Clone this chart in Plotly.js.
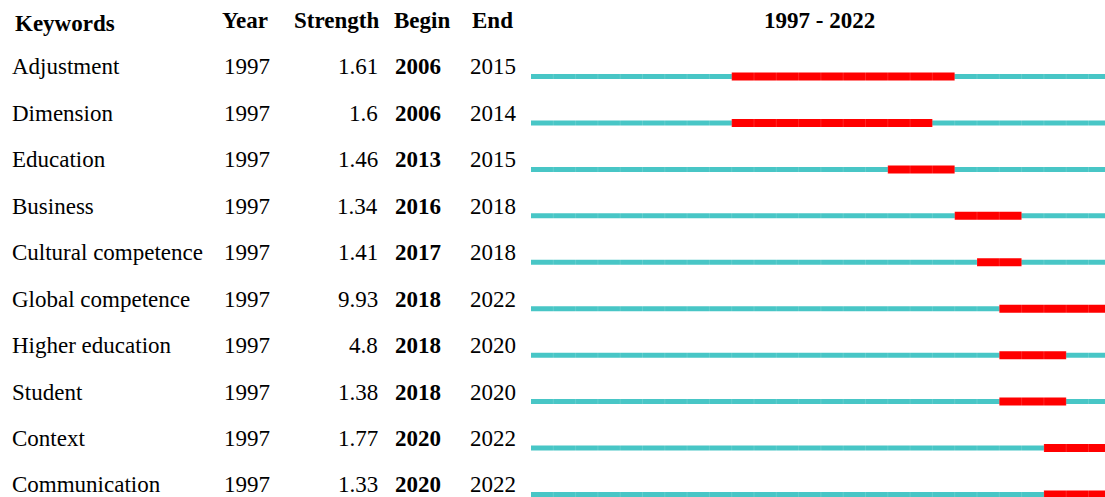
<!DOCTYPE html>
<html>
<head>
<meta charset="utf-8">
<script src="https://cdn.plot.ly/plotly-3.0.1.min.js"></script>
<style>html,body{margin:0;padding:0;background:#fff;}#chart{width:1105px;height:497px;}</style>
</head>
<body>
<div id="chart"></div>
<script>
const keywords = ["Adjustment","Dimension","Education","Business","Cultural competence","Global competence","Higher education","Student","Context","Communication"];
const years = [1997,1997,1997,1997,1997,1997,1997,1997,1997,1997];
const strengths = ["1.61","1.6","1.46","1.34","1.41","9.93","4.8","1.38","1.77","1.33"];
const begins = [2006,2006,2013,2016,2017,2018,2018,2018,2020,2020];
const ends = [2015,2014,2015,2018,2018,2022,2020,2020,2022,2022];
const headers = ["Keywords","Year","Strength","Begin","End"];
const spanStart = 1997;
const spanEnd = 2022;

const W = 1105, H = 497;
const FONT = "Liberation Serif, 'Times New Roman', serif";
const FS = 23;

// cyan full-span lines and red burst lines
const cx = [], cy = [], rx = [], ry = [], sx = [], sy = [];
keywords.forEach((k, i) => {
  cx.push(spanStart, spanEnd + 1, null); cy.push(i, i, null);
  rx.push(begins[i], ends[i] + 1, null); ry.push(i, i, null);
  for (let yr = spanStart + 1; yr <= spanEnd; yr++) { sx.push(yr); sy.push(i); }
});

const traces = [
  {x: cx, y: cy, mode: 'lines', line: {color: '#48C6C6', width: 5}, hoverinfo: 'skip', type: 'scatter'},
  {x: rx, y: ry, mode: 'lines', line: {color: '#FF0000', width: 8}, hoverinfo: 'skip', type: 'scatter'},
  {x: sx, y: sy, mode: 'markers', marker: {symbol: 'line-ns', size: 8, color: 'rgba(255,255,255,0.15)', line: {color: 'rgba(255,255,255,0.15)', width: 1}}, hoverinfo: 'skip', type: 'scatter'}
];

const ann = [];
const txtOff = -0.205;
const colX = {kw: 10, year: 222, strR: 380, begin: 393, end: 468};
keywords.forEach((k, i) => {
  const y = i + txtOff;
  ann.push({text: k, xref: 'paper', x: colX.kw / W, yref: 'y', y: y, xanchor: 'left', yanchor: 'middle', showarrow: false, font: {family: FONT, size: FS, color: '#000'}});
  ann.push({text: String(years[i]), xref: 'paper', x: colX.year / W, yref: 'y', y: y, xanchor: 'left', yanchor: 'middle', showarrow: false, font: {family: FONT, size: FS, color: '#000'}});
  ann.push({text: strengths[i], xref: 'paper', x: colX.strR / W, yref: 'y', y: y, xanchor: 'right', yanchor: 'middle', showarrow: false, font: {family: FONT, size: FS, color: '#000'}});
  ann.push({text: '<b>' + begins[i] + '</b>', xref: 'paper', x: colX.begin / W, yref: 'y', y: y, xanchor: 'left', yanchor: 'middle', showarrow: false, font: {family: FONT, size: FS, color: '#000'}});
  ann.push({text: String(ends[i]), xref: 'paper', x: colX.end / W, yref: 'y', y: y, xanchor: 'left', yanchor: 'middle', showarrow: false, font: {family: FONT, size: FS, color: '#000'}});
});
const hdrY = 1 - 21 / H;
const hdrPos = [[13, 'left', 1 - 24 / H], [220, 'left', hdrY], [381, 'right', hdrY], [392, 'left', hdrY], [470, 'left', hdrY]];
headers.forEach((h, j) => {
  ann.push({text: '<b>' + h + '</b>', xref: 'paper', x: hdrPos[j][0] / W, yref: 'paper', y: hdrPos[j][2], xanchor: hdrPos[j][1], yanchor: 'middle', showarrow: false, font: {family: FONT, size: FS, color: '#000'}});
});
ann.push({text: '<b>' + spanStart + ' - ' + spanEnd + '</b>', xref: 'paper', x: 819 / W, yref: 'paper', y: hdrY, xanchor: 'center', yanchor: 'middle', showarrow: false, font: {family: FONT, size: FS, color: '#000'}});

const pxPerYear = 22.3;
const x0 = spanStart - 531 / pxPerYear;
const x1 = x0 + W / pxPerYear;
const rowPx = 46.44, row0 = 76.5;

const layout = {
  width: W, height: H,
  margin: {l: 0, r: 0, t: 0, b: 0, pad: 0},
  paper_bgcolor: '#fff', plot_bgcolor: '#fff',
  showlegend: false,
  xaxis: {range: [x0, x1], visible: false, fixedrange: true},
  yaxis: {range: [(H - row0) / rowPx, -row0 / rowPx], visible: false, fixedrange: true},
  annotations: ann
};
Plotly.newPlot('chart', traces, layout, {displayModeBar: false, staticPlot: true});
</script>
</body>
</html>
